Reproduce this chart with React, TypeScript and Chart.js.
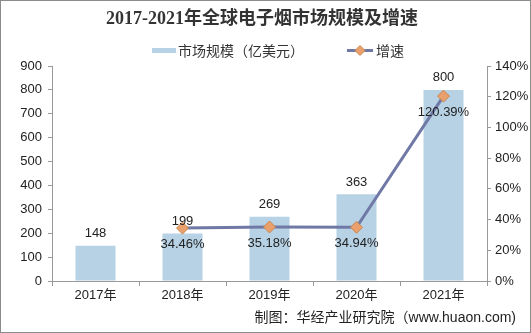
import React, { useEffect, useRef } from "react";
import { Chart, registerables } from "chart.js";

Chart.register(...registerables);

const categories = ["2017年", "2018年", "2019年", "2020年", "2021年"];
const marketSize = [148, 199, 269, 363, 800];
const growthRate = [null, 34.46, 35.18, 34.94, 120.39];
const leftTicks = [0, 100, 200, 300, 400, 500, 600, 700, 800, 900];
const rightTicks = [0, 20, 40, 60, 80, 100, 120, 140];

const titleText = "2017-2021年全球电子烟市场规模及增速";
const barLabel = "市场规模（亿美元）";
const lineLabel = "增速";
const sourceText = "制图：华经产业研究院（www.huaon.com)";

const BAR_COLOR = "#B7D2E5";
const LINE_COLOR = "#7079A6";
const MARKER_COLOR = "#E9A06C";
const MARKER_BORDER = "#C98850";
const FONT = "'Liberation Sans', Arial, 'Noto Sans CJK SC', sans-serif";

const decorPlugin = {
  id: "decor",
  afterDraw(chart: any) {
    const ctx = chart.ctx;
    const W = chart.width;
    const H = chart.height;
    ctx.save();
    // border
    ctx.strokeStyle = "#8c8c8c";
    ctx.lineWidth = 1;
    ctx.strokeRect(0.5, 0.5, W - 1, H - 1);

    // title
    ctx.fillStyle = "#333333";
    ctx.font = "bold 18px 'Liberation Serif', 'Noto Sans CJK SC', serif";
    ctx.textAlign = "center";
    ctx.textBaseline = "middle";
    ctx.fillText(titleText, 262, 19);

    // legend
    ctx.font = "14px 'Noto Sans CJK SC', sans-serif";
    ctx.textAlign = "left";
    ctx.fillStyle = BAR_COLOR;
    ctx.fillRect(152, 48, 24, 5);
    ctx.fillStyle = "#333333";
    ctx.fillText(barLabel, 178, 51);
    ctx.strokeStyle = LINE_COLOR;
    ctx.lineWidth = 3;
    ctx.beginPath();
    ctx.moveTo(347, 50.5);
    ctx.lineTo(373, 50.5);
    ctx.stroke();
    ctx.fillStyle = MARKER_COLOR;
    ctx.strokeStyle = MARKER_BORDER;
    ctx.lineWidth = 1;
    ctx.beginPath();
    ctx.moveTo(360, 45.5);
    ctx.lineTo(365, 50.5);
    ctx.lineTo(360, 55.5);
    ctx.lineTo(355, 50.5);
    ctx.closePath();
    ctx.fill();
    ctx.stroke();
    ctx.fillStyle = "#333333";
    ctx.fillText(lineLabel, 376, 51);

    // data labels
    ctx.font = "13px " + FONT;
    ctx.textAlign = "center";
    ctx.fillStyle = "#222222";
    const barMeta = chart.getDatasetMeta(0);
    barMeta.data.forEach((el: any, i: number) => {
      ctx.fillText(String(marketSize[i]), el.x, el.y - 12);
    });
    const lineMeta = chart.getDatasetMeta(1);
    lineMeta.data.forEach((el: any, i: number) => {
      const v = growthRate[i];
      if (v == null) return;
      ctx.fillText(v.toFixed(2) + "%", el.x, el.y + 16);
    });

    // source
    ctx.font = "14px " + FONT;
    ctx.textAlign = "right";
    ctx.fillStyle = "#222222";
    ctx.fillText(sourceText, 516, 318);
    ctx.restore();
  },
};

export default function App() {
  const ref = useRef<HTMLCanvasElement>(null);
  useEffect(() => {
    document.body.style.margin = "0";
    const chart = new Chart(ref.current!, {
      type: "bar",
      data: {
        labels: categories,
        datasets: [
          {
            type: "bar",
            label: barLabel,
            data: marketSize,
            backgroundColor: BAR_COLOR,
            yAxisID: "y",
            barPercentage: 0.46,
            categoryPercentage: 1,
            order: 2,
          },
          {
            type: "line",
            label: lineLabel,
            data: growthRate,
            borderColor: LINE_COLOR,
            borderWidth: 3,
            pointStyle: "rectRot",
            pointRadius: 6,
            pointBackgroundColor: MARKER_COLOR,
            pointBorderColor: MARKER_BORDER,
            pointBorderWidth: 1,
            yAxisID: "y1",
            order: 1,
          } as any,
        ],
      },
      options: {
        responsive: false,
        animation: false,
        layout: { padding: { top: 66, left: 0, right: 0, bottom: 0 } },
        plugins: {
          legend: { display: false },
          title: { display: false },
          tooltip: { enabled: false },
        },
        scales: {
          x: {
            offset: true,
            grid: {
              offset: true,
              drawOnChartArea: false,
              drawTicks: true,
              tickLength: 5,
              color: "#999999",
            },
            border: { color: "#999999" },
            ticks: { color: "#222222", font: { size: 13, family: FONT }, padding: 2 },
            afterFit(scale: any) {
              scale.height = 52;
            },
          },
          y: {
            position: "left",
            min: 0,
            max: 900,
            afterBuildTicks(scale: any) {
              scale.ticks = leftTicks.map((v) => ({ value: v }));
            },
            grid: { drawOnChartArea: false, drawTicks: true, tickLength: 4, color: "#999999" },
            border: { color: "#999999" },
            ticks: { color: "#222222", font: { size: 13, family: FONT }, padding: 6 },
            afterFit(scale: any) {
              scale.width = 52;
            },
          },
          y1: {
            position: "right",
            min: 0,
            max: 140,
            afterBuildTicks(scale: any) {
              scale.ticks = rightTicks.map((v) => ({ value: v }));
            },
            grid: { drawOnChartArea: false, drawTicks: true, tickLength: 4, color: "#999999" },
            border: { color: "#999999" },
            ticks: {
              color: "#222222",
              font: { size: 13, family: FONT },
              padding: 4,
              callback: (v: any) => v + "%",
            },
            afterFit(scale: any) {
              scale.width = 44;
            },
          },
        },
      },
      plugins: [decorPlugin],
    });
    return () => chart.destroy();
  }, []);
  return <canvas ref={ref} width={531} height={333} style={{ display: "block" }} />;
}
